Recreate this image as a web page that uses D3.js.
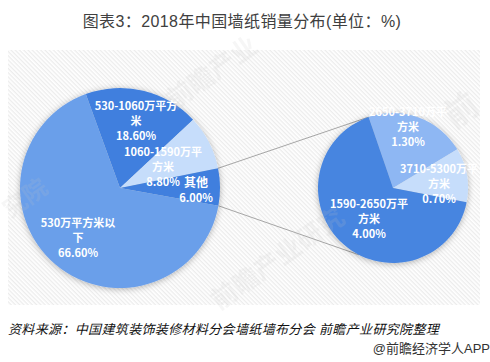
<!DOCTYPE html>
<html lang="zh">
<head>
<meta charset="utf-8">
<script src="https://d3js.org/d3.v7.min.js"></script>
<style>
  html, body { margin: 0; padding: 0; background: #fff; overflow: hidden; }
  svg { display: block; }
  text { font-family: "Liberation Sans", "Noto Sans CJK SC", sans-serif; }
  .lbl { font-family: "Noto Sans CJK SC", sans-serif; font-size: 11px; font-weight: 700; fill: #fff; text-anchor: middle; }
  .wm { font-family: "Noto Sans CJK SC", sans-serif; font-weight: 700; fill: #c4c4c4; text-anchor: middle; }
</style>
</head>
<body>
<svg id="chart" width="490" height="362"></svg>
<script>
// values (percent)
var mainCats = ['530-1060万平方米', '1060-1590万平方米', '其他', '530万平方米以下'];
var mainVals = [18.6, 8.8, 6.0, 66.6];
var subCats = ['2650-3710万平方米', '3710-5300万平方米', '1590-2650万平方米'];
var subVals = [1.3, 0.7, 4.0];

var mainColors = ['#3f7fde', '#c6ddfb', '#3f7fde', '#6b9fea'];
var subColors = ['#8eb7f3', '#c6ddfb', '#4785e0'];

// label layout: centre x, first baseline y, chars on first line
var mainLabelAt = [[136, 110, 11], [163, 156, 11], [196, 187, 2], [78, 227, 8]];
var subLabelAt = [[408, 116, 11], [439, 173, 11], [369, 208, 11]];

var svg = d3.select('#chart');
var defs = svg.append('defs');

var hatch = defs.append('pattern').attr('id', 'hatch')
  .attr('width', 3).attr('height', 3)
  .attr('patternUnits', 'userSpaceOnUse')
  .attr('patternTransform', 'rotate(45)');
hatch.append('rect').attr('width', 3).attr('height', 3).attr('fill', '#fff');
hatch.append('rect').attr('width', 3).attr('height', 1.3).attr('fill', '#ececec');

var shadow = defs.append('filter').attr('id', 'shadow')
  .attr('x', '-20%').attr('y', '-20%').attr('width', '140%').attr('height', '140%');
shadow.append('feDropShadow').attr('dx', 0).attr('dy', 1).attr('stdDeviation', 3)
  .attr('flood-color', '#000').attr('flood-opacity', 0.3);

// title
svg.append('text').attr('x', 242).attr('y', 27).attr('text-anchor', 'middle')
  .attr('font-size', 16).attr('letter-spacing', 0.4).attr('fill', '#404040')
  .text('图表3：2018年中国墙纸销量分布(单位：%)');

// hatched plot panel
svg.append('rect').attr('x', 8).attr('y', 50).attr('width', 472).attr('height', 255)
  .attr('fill', 'url(#hatch)');

var deg = Math.PI / 180;
var mainC = [120, 188], mainR = 100;
var subC = [393, 188], subR = 75;

var pieMain = d3.pie().sort(null).startAngle(-20 * deg).endAngle(340 * deg);
var pieSub = d3.pie().sort(null).startAngle(-19 * deg).endAngle(341 * deg);
var mainArcs = pieMain(mainVals);
var subArcs = pieSub(subVals);

function onCircle(c, r, a) {
  return [c[0] + r * Math.sin(a), c[1] - r * Math.cos(a)];
}

// connector lines run from the edges of the 其他 slice to the second pie
var other = mainArcs[mainCats.indexOf('其他')];
var links = [
  [onCircle(mainC, mainR, other.startAngle), onCircle(subC, subR, subArcs[0].startAngle)],
  [onCircle(mainC, mainR, other.endAngle), onCircle(subC, subR, 207 * deg)]
];
svg.append('g').selectAll('line').data(links).enter().append('line')
  .attr('x1', function(d) { return d[0][0]; })
  .attr('y1', function(d) { return d[0][1]; })
  .attr('x2', function(d) { return d[1][0]; })
  .attr('y2', function(d) { return d[1][1]; })
  .attr('stroke', '#a6a6a6').attr('stroke-width', 1);

function drawPie(c, r, arcs, colors) {
  var arc = d3.arc().innerRadius(0).outerRadius(r);
  svg.append('g').attr('transform', 'translate(' + c + ')')
    .attr('filter', 'url(#shadow)')
    .selectAll('path').data(arcs).enter().append('path')
    .attr('d', arc)
    .attr('fill', function(d, i) { return colors[i]; });
}
drawPie(mainC, mainR, mainArcs, mainColors);
drawPie(subC, subR, subArcs, subColors);

// watermarks, very faint
var marks = [[217, 80, 26, '前瞻产业'], [30, 205, 24, '究院'], [283, 266, 26, '前瞻产业研究'], [468, 120, 34, '前']];
marks.forEach(function(m) {
  svg.append('text').attr('class', 'wm')
    .attr('transform', 'translate(' + m[0] + ',' + m[1] + ') rotate(-35)')
    .attr('font-size', m[2]).attr('opacity', 0.15)
    .text(m[3]);
});

function drawLabels(cats, vals, at) {
  cats.forEach(function(cat, i) {
    var p = at[i];
    var t = svg.append('text').attr('class', 'lbl');
    var lines = [cat.slice(0, p[2]), cat.slice(p[2]), d3.format('.2f')(vals[i]) + '%'].filter(Boolean);
    lines.forEach(function(line, j) {
      var s = t.append('tspan').attr('x', p[0]).attr('y', p[1] + j * 15).text(line);
      if (cat === '其他' && j === 0) s.attr('font-size', 12);
    });
  });
}
drawLabels(mainCats, mainVals, mainLabelAt);
drawLabels(subCats, subVals, subLabelAt);

// source line and credit
svg.append('text').attr('x', 8).attr('y', 334).attr('font-size', 13)
  .attr('letter-spacing', 0.35)
  .attr('font-style', 'italic').attr('fill', '#111')
  .text('资料来源：中国建筑装饰装修材料分会墙纸墙布分会 前瞻产业研究院整理');
svg.append('text').attr('x', 490).attr('y', 353).attr('text-anchor', 'end')
  .attr('font-size', 13).attr('fill', '#333')
  .text('@前瞻经济学人APP');
</script>
</body>
</html>
